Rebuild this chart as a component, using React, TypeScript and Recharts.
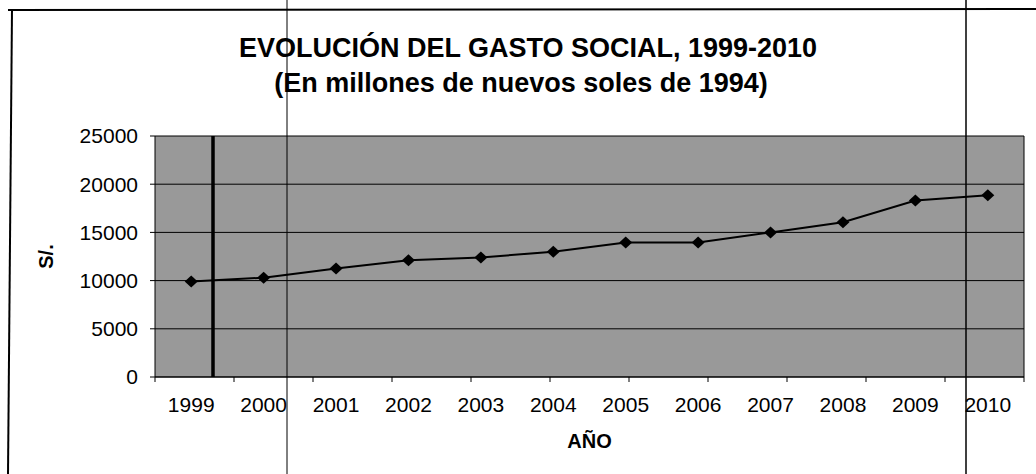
import { LineChart, Line, XAxis, YAxis, CartesianGrid } from 'recharts'

const YEARS = ['1999', '2000', '2001', '2002', '2003', '2004', '2005', '2006', '2007', '2008', '2009', '2010']
const GASTO = [9900, 10300, 11250, 12100, 12400, 13000, 13950, 13950, 15000, 16050, 18300, 18850]
const Y_TICKS = [0, 5000, 10000, 15000, 20000, 25000]
// category boundaries, where the x tick marks sit
const BOUNDS = [0, 1, 2, 3, 4, 5, 6, 7, 8, 9, 10, 11, 12]

const data = YEARS.map((year, i) => ({ year, gasto: GASTO[i] }))

const FONT = '"Liberation Sans", Arial, sans-serif'

function Diamond(props: any) {
  const { cx, cy } = props
  if (cx == null || cy == null) return null
  return <path d={`M${cx},${cy - 6}L${cx + 6.5},${cy}L${cx},${cy + 6}L${cx - 6.5},${cy}Z`} fill="#000" />
}

function YLabel(props: any) {
  const { x, y, height } = props.viewBox
  const cx = x + 46
  const cy = y + height / 2
  return (
    <text x={cx} y={cy} transform={`rotate(-90 ${cx} ${cy})`} textAnchor="middle" dominantBaseline="central"
      fontSize={20} fontWeight="bold" fill="#000" fontFamily={FONT}>S/.</text>
  )
}

export default function App() {
  return (
    <div style={{ position: 'absolute', left: 0, top: 0, width: 1036, height: 474, background: '#fff', fontFamily: FONT }}>
      <LineChart width={1036} height={474} data={data} margin={{ top: 136, right: 12, bottom: 11, left: 0 }}>
        <CartesianGrid xAxisId="cat" stroke="#000" strokeWidth={1} fill="#999"
          verticalCoordinatesGenerator={({ offset }: any) => [offset.left + offset.width]} />
        <XAxis xAxisId="b" type="number" domain={[0, 12]} ticks={BOUNDS} height={6} tickSize={5}
          tickFormatter={() => ''} stroke="#000" />
        <XAxis xAxisId="cat" dataKey="year" scale="band" height={80} axisLine={false} tickLine={false} tickSize={0}
          tickMargin={14} interval={0} tick={{ fontSize: 21, fill: '#000', fontFamily: FONT }}
          label={{ value: 'AÑO', position: 'insideBottom', offset: 15, fontSize: 20, fontWeight: 'bold', fill: '#000', fontFamily: FONT }} />
        <YAxis domain={[0, 25000]} ticks={Y_TICKS} width={155} tickSize={5} tickMargin={12} stroke="#000"
          tick={{ fontSize: 21, fill: '#000', fontFamily: FONT }} label={<YLabel />} />
        <Line xAxisId="cat" dataKey="gasto" stroke="#000" strokeWidth={2} dot={<Diamond />}
          activeDot={false} isAnimationActive={false} />
      </LineChart>
      <svg width={1036} height={474} style={{ position: 'absolute', left: 0, top: 0, pointerEvents: 'none' }}>
        <text x={528} y={57} textAnchor="middle" fontSize={27} fontWeight="bold" fill="#000" fontFamily={FONT}>
          EVOLUCIÓN DEL GASTO SOCIAL, 1999-2010
        </text>
        <text x={521} y={92} textAnchor="middle" fontSize={27} fontWeight="bold" fill="#000" fontFamily={FONT}>
          (En millones de nuevos soles de 1994)
        </text>
        {/* scanned page frame */}
        <line x1={12} y1={9} x2={8} y2={474} stroke="#000" strokeWidth={2} />
        <line x1={8} y1={10} x2={1036} y2={9} stroke="#000" strokeWidth={2} />
        <line x1={287} y1={0} x2={287} y2={474} stroke="#000" strokeWidth={1} />
        <line x1={966} y1={0} x2={966} y2={474} stroke="#000" strokeWidth={1.5} />
        <line x1={213} y1={136} x2={213} y2={377} stroke="#000" strokeWidth={3.5} />
      </svg>
    </div>
  )
}
